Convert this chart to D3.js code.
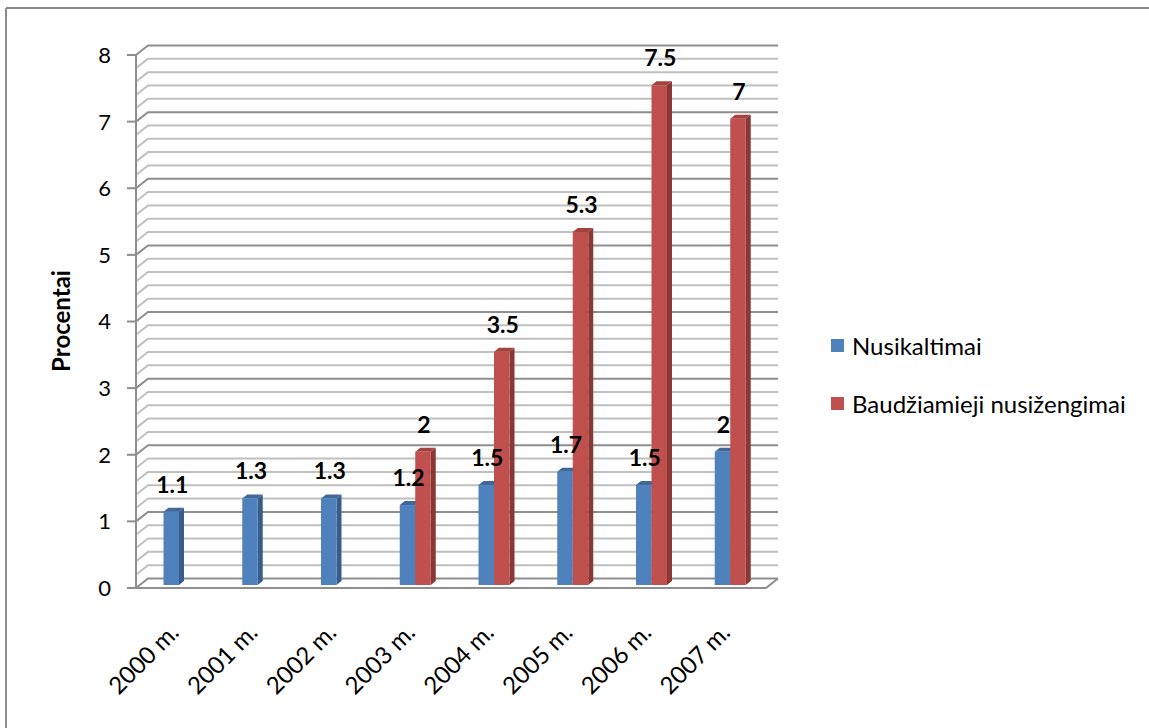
<!DOCTYPE html>
<html lang="lt">
<head>
  <meta charset="utf-8">
  <title>Procentai</title>
  <script src="https://d3js.org/d3.v7.min.js"></script>
  <style>
    body { margin: 0; background: #fff; }
    svg text { font-family: Lato, "Open Sans", sans-serif; fill: #000; }
  </style>
</head>
<body>
  <div id="container"></div>
  <script>
    var w = 1149, h = 728;

    // data
    var years = ["2000 m.", "2001 m.", "2002 m.", "2003 m.", "2004 m.", "2005 m.", "2006 m.", "2007 m."];
    var seriesNames = ["Nusikaltimai", "Baudžiamieji nusižengimai"];
    var nusikaltimai = [1.1, 1.3, 1.3, 1.2, 1.5, 1.7, 1.5, 2];
    var baudziamieji = [null, null, null, 2, 3.5, 5.3, 7.5, 7];
    var yTicks = [0, 1, 2, 3, 4, 5, 6, 7, 8];

    var colors = {
      front: ["#4f81bd", "#c0504d"],
      side: ["#385d8a", "#8a3835"],
      top: ["#41689a", "#a3423f"]
    };

    // 3d offsets
    var wallDx = 12, wallDy = -9.5;
    var barDy = -3, depthX = 5, depthY = -4;

    var svg = d3.select("#container").append("svg")
      .attr("width", w).attr("height", h);

    // outer frame
    svg.append("line").attr("x1", 6).attr("x2", w).attr("y1", 8).attr("y2", 8)
      .attr("stroke", "#8c8c8c").attr("stroke-width", 2);
    svg.append("line").attr("x1", 6).attr("x2", 6).attr("y1", 8).attr("y2", h)
      .attr("stroke", "#8c8c8c").attr("stroke-width", 2);

    var x = d3.scaleBand().domain(years).range([136, 766]);
    var y = d3.scaleLinear().domain([0, 8]).range([588, 55]);
    var inner = d3.scaleBand().domain([0, 1]).range([27.5, 58.5]);

    // gridlines every 0.2
    var grid = d3.range(0, 41).map(function(i) { return i / 5; });
    var g = svg.append("g");
    grid.forEach(function(v) {
      var major = Math.abs(v - Math.round(v)) < 1e-6;
      var yy = y(v);
      g.append("path")
        .attr("d", "M" + 136 + "," + yy + "L" + (136 + wallDx) + "," + (yy + wallDy) +
          "L" + (766 + wallDx) + "," + (yy + wallDy))
        .attr("fill", "none")
        .attr("stroke", major ? "#8e8e8e" : "#c0c0c0")
        .attr("stroke-width", 2);
    });

    // floor front edge
    svg.append("path")
      .attr("d", "M127," + y(0) + "L766," + y(0) + "L" + (766 + wallDx) + "," + (y(0) + wallDy))
      .attr("fill", "none").attr("stroke", "#8e8e8e").attr("stroke-width", 2);

    // y axis
    svg.append("line").attr("x1", 136).attr("x2", 136).attr("y1", y(8)).attr("y2", y(0))
      .attr("stroke", "#8e8e8e").attr("stroke-width", 2);
    svg.selectAll(".ytick").data(yTicks).enter().append("line")
      .attr("x1", 127).attr("x2", 136)
      .attr("y1", function(d) { return y(d); }).attr("y2", function(d) { return y(d); })
      .attr("stroke", "#8e8e8e").attr("stroke-width", 2);
    svg.selectAll(".ylab").data(yTicks).enter().append("text")
      .attr("x", 111).attr("y", function(d) { return y(d); })
      .attr("dy", "0.36em")
      .attr("text-anchor", "end")
      .style("font-size", "22px")
      .text(function(d) { return d; });

    svg.append("text")
      .attr("transform", "translate(70,321) rotate(-90)")
      .attr("text-anchor", "middle")
      .style("font-size", "24px").style("font-weight", "bold")
      .text("Procentai");

    // bars
    var bars = [];
    years.forEach(function(yr, i) {
      [nusikaltimai[i], baudziamieji[i]].forEach(function(v, s) {
        if (v != null) bars.push({ year: yr, s: s, v: v });
      });
    });

    var bw = inner.bandwidth();
    var bg = svg.append("g");
    bars.forEach(function(d) {
      var x0 = x(d.year) + inner(d.s);
      var x1 = x0 + bw;
      var yt = y(d.v) + barDy;
      var yb = y(0) + barDy;
      // side
      bg.append("path")
        .attr("d", "M" + x1 + "," + yt + "L" + (x1 + depthX) + "," + (yt + depthY) +
          "L" + (x1 + depthX) + "," + (yb + depthY) + "L" + x1 + "," + yb + "Z")
        .attr("fill", colors.side[d.s]);
      // top
      bg.append("path")
        .attr("d", "M" + x0 + "," + yt + "L" + (x0 + depthX) + "," + (yt + depthY) +
          "L" + (x1 + depthX) + "," + (yt + depthY) + "L" + x1 + "," + yt + "Z")
        .attr("fill", colors.top[d.s]);
      // front
      bg.append("rect")
        .attr("x", x0).attr("y", yt).attr("width", bw).attr("height", yb - yt)
        .attr("fill", colors.front[d.s]);
    });

    // value labels
    svg.selectAll(".vlab").data(bars).enter().append("text")
      .attr("x", function(d) { return x(d.year) + inner(d.s) + bw / 2 + 1; })
      .attr("y", function(d) { return y(d.v) + barDy - 19; })
      .attr("text-anchor", "middle")
      .style("font-size", "23px").style("font-weight", "bold")
      .text(function(d) { return d.v; });

    // x labels
    svg.selectAll(".xlab").data(years).enter().append("text")
      .attr("transform", function(d) {
        return "translate(" + (x(d) + x.bandwidth() / 2 + 5) + ",634) rotate(-45)";
      })
      .attr("text-anchor", "end")
      .style("font-size", "24px")
      .text(function(d) { return d; });

    // legend
    var lg = svg.selectAll(".leg").data(seriesNames).enter().append("g")
      .attr("transform", function(d, i) { return "translate(831," + (346 + i * 58) + ")"; });
    lg.append("rect").attr("x", 0).attr("y", -7).attr("width", 13).attr("height", 13)
      .attr("fill", function(d, i) { return colors.front[i]; });
    lg.append("text").attr("x", 21).attr("y", 0).attr("dy", "0.36em")
      .style("font-size", "24px")
      .text(function(d) { return d; });
  </script>
</body>
</html>
